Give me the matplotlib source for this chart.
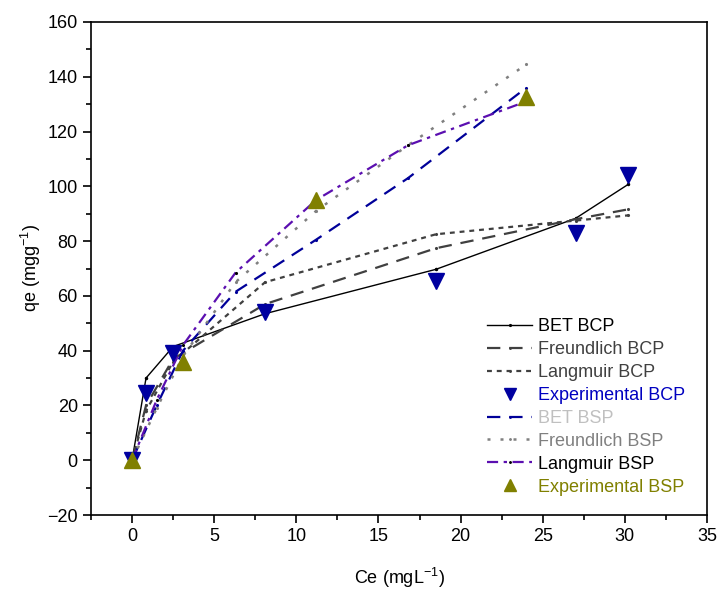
import matplotlib
matplotlib.use("Agg")
import matplotlib.pyplot as plt
from matplotlib.ticker import MultipleLocator

plt.rcParams['font.family'] = ['Arial', 'Liberation Sans', 'DejaVu Sans']
plt.rcParams['mathtext.fontset'] = 'custom'
plt.rcParams['mathtext.rm'] = 'Liberation Sans'
plt.rcParams['mathtext.it'] = 'Liberation Sans:italic'

# BCP isotherm data
ce_bcp = [0, 0.85, 2.5, 8.1, 18.5, 27.0, 30.2]
qe_exp_bcp = [0, 24.5, 39, 54, 65.5, 83, 104]
qe_bet_bcp = [0, 30, 41.5, 53.5, 69.7, 88.3, 100.7]
qe_freundlich_bcp = [0, 20, 37, 57, 77.4, 88, 91.6]
qe_langmuir_bcp = [0, 18, 36, 65, 82.5, 87.5, 89.4]

# BSP isotherm data
ce_bsp_exp = [0, 3.1, 11.2, 24.0]
qe_exp_bsp = [0, 35.8, 95, 132.5]
ce_bsp_fit = [0, 1.5, 3.1, 6.3, 11.2, 16.8, 24.0]
qe_bet_bsp = [0, 20, 40, 61.5, 80.5, 103, 136]
qe_freundlich_bsp = [0, 19, 38, 65, 91, 115, 144.5]
qe_langmuir_bsp = [0, 22, 42, 68.5, 95, 115, 131]

labels = ["BET BCP", "Freundlich BCP", "Langmuir BCP", "Experimental BCP",
          "BET BSP", "Freundlich BSP", "Langmuir BSP", "Experimental BSP"]
label_colors = ["#000000", "#404040", "#404040", "#0000c0",
                "#c0c0c0", "#808080", "#000000", "#808000"]

fig = plt.figure(figsize=(7.18, 5.90), dpi=100)
ax = fig.add_axes([91/718, 1-515/590, (707-91)/718, (515-22)/590])

ax.plot(ce_bcp, qe_bet_bcp, color="black", lw=1.0, ls="-",
        marker=".", ms=3, label=labels[0], zorder=3)
ax.plot(ce_bcp, qe_freundlich_bcp, color="#404040", lw=1.6, ls=(0, (6, 4)),
        marker=".", ms=2.5, label=labels[1], zorder=3)
ax.plot(ce_bcp, qe_langmuir_bcp, color="#404040", lw=1.6, ls=(0, (2.2, 2.2)),
        marker=".", ms=2.5, label=labels[2], zorder=3)
ax.plot(ce_bcp, qe_exp_bcp, ls="none", marker="v", ms=11, color="#0000a0",
        label=labels[3], zorder=5)
ax.plot(ce_bsp_fit, qe_bet_bsp, color="#000099", lw=1.6, ls=(0, (6, 4)),
        marker=".", ms=2.5, label=labels[4], zorder=3)
ax.plot(ce_bsp_fit, qe_freundlich_bsp, color="#808080", lw=1.8, ls=(0, (1.2, 4)),
        marker=".", ms=2.5, label=labels[5], zorder=3)
ax.plot(ce_bsp_fit, qe_langmuir_bsp, color="#5b0fb0", lw=1.6, ls=(0, (5, 2.5, 1.5, 2.5)),
        marker=".", ms=2.5, mfc="black", mec="black", label=labels[6], zorder=3)
ax.plot(ce_bsp_exp, qe_exp_bsp, ls="none", marker="^", ms=11, color="#808000",
        label=labels[7], zorder=5)

ax.set_xlim(-2.5, 35)
ax.set_ylim(-20, 160)
ax.xaxis.set_major_locator(MultipleLocator(5))
ax.xaxis.set_minor_locator(MultipleLocator(2.5))
ax.yaxis.set_major_locator(MultipleLocator(20))
ax.yaxis.set_minor_locator(MultipleLocator(10))
ax.tick_params(which="both", direction="out", top=False, right=False,
               labelsize=13, width=1.2)
ax.tick_params(which="major", length=6)
ax.tick_params(which="minor", length=3.5)
for sp in ax.spines.values():
    sp.set_linewidth(1.2)

ax.set_xlabel("Ce (mgL$^{-1}$)", fontsize=13, labelpad=15)
ax.set_ylabel("qe (mgg$^{-1}$)", fontsize=13, labelpad=3)

leg = ax.legend(loc="upper left", bbox_to_anchor=(487/718, 1-318/590),
                bbox_transform=fig.transFigure, frameon=False, fontsize=13,
                handlelength=2.5, handletextpad=0.35, labelspacing=0.33,
                borderaxespad=0, borderpad=0, markerscale=0.85)
for txt, c in zip(leg.get_texts(), label_colors):
    txt.set_color(c)

fig.savefig("out.png", dpi=100)
